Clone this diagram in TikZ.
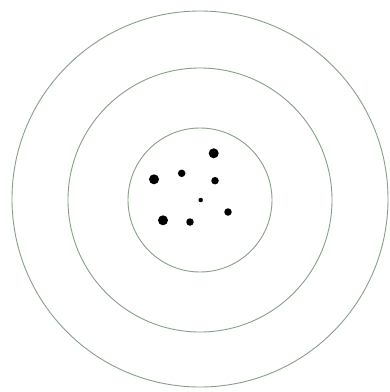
\documentclass[tikz,border=0pt]{standalone}
\begin{document}
\begin{tikzpicture}[x=1pt,y=-1pt,
  ring/.style={circle,draw={rgb,255:red,135;green,160;blue,135},line width=0.9pt,inner sep=0pt},
  hole/.style={circle,fill=black,inner sep=0pt}]
\useasboundingbox (0,0) rectangle (390,392);
\fill[white] (0,0) rectangle (390,392);
\node[ring,minimum size=376pt] (outer) at (200,199) {};
\node[ring,minimum size=264pt] (middle) at (200,200) {};
\node[ring,minimum size=144pt] (inner) at (200,200) {};
\node[hole,minimum size=10pt] (h1) at (213.7,153.3) {};
\node[hole,minimum size=7.5pt] (h2) at (181.7,173.3) {};
\node[hole,minimum size=10pt] (h3) at (154,179.3) {};
\node[hole,minimum size=7.5pt] (h4) at (215,180.7) {};
\node[hole,minimum size=4.5pt] (h5) at (200.7,200) {};
\node[hole,minimum size=7.5pt] (h6) at (228,212) {};
\node[hole,minimum size=10pt] (h7) at (163,220.3) {};
\node[hole,minimum size=7.5pt] (h8) at (190,222) {};
\end{tikzpicture}
\end{document}
